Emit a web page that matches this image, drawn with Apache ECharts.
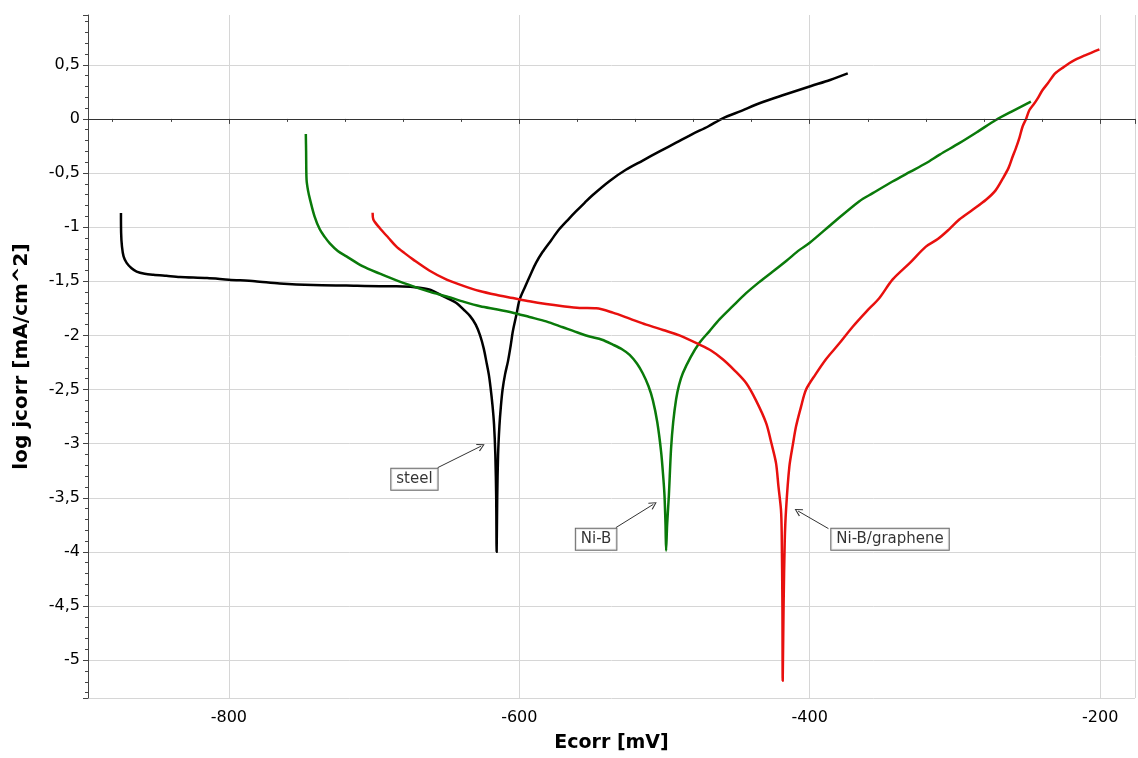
<!DOCTYPE html>
<html>
<head>
<meta charset="utf-8">
<title>Polarization curves</title>
<script src="https://cdn.jsdelivr.net/npm/echarts@6/dist/echarts.min.js"></script>
<style>
  html, body { margin: 0; padding: 0; background: #fff; }
  #chart { width: 1138px; height: 758px; }
</style>
</head>
<body>
<div id="chart"></div>
<script>
// steel
var steelE = [-874.3, -874.2, -873.6, -872.5, -870.4, -867, -863.5, -858, -852, -843, -833.7, -815, -800, -782, -765, -742, -719, -696, -684.6, -675, -668.6, -661, -654.8, -649, -643.3, -638.5, -634, -630, -627, -624.5, -622.7, -621, -619.8, -618.5, -617.4, -616.5, -615.9, -615.6, -615.2, -614.6, -613.7, -612.7, -611.5, -609.8, -607.8, -606, -604.4, -602, -599.8, -596, -592, -588.5, -584, -578, -572.5, -566, -561, -555, -549.6, -538, -526.6, -515, -503.4, -492, -480.5, -470, -459.9, -447, -434.6, -417, -399, -386, -373.8];
var steelJ = [-0.87, -1.05, -1.18, -1.27, -1.33, -1.38, -1.41, -1.43, -1.44, -1.45, -1.46, -1.47, -1.485, -1.5, -1.52, -1.535, -1.54, -1.545, -1.545, -1.55, -1.56, -1.58, -1.62, -1.66, -1.7, -1.76, -1.82, -1.9, -2.0, -2.12, -2.24, -2.36, -2.48, -2.64, -2.82, -3.1, -3.5, -4.0, -3.5, -3.1, -2.84, -2.66, -2.5, -2.36, -2.24, -2.1, -1.96, -1.81, -1.67, -1.55, -1.43, -1.33, -1.23, -1.12, -1.02, -0.925, -0.855, -0.775, -0.705, -0.575, -0.47, -0.385, -0.3, -0.22, -0.138, -0.07, 0.006, 0.075, 0.145, 0.225, 0.304, 0.36, 0.42];

// Ni-B
var nibE = [-747, -746.8, -746.5, -745.5, -744, -741, -737.4, -734, -730.5, -725, -719, -708, -696, -685, -673, -661, -650, -638, -627, -615, -604.4, -593, -581.5, -570, -558.5, -551.6, -543, -535.6, -529, -524, -519, -515, -511, -508, -505, -502.3, -500.8, -500, -499.3, -498.9, -498.2, -497, -495.5, -494, -492, -490, -487.4, -482, -476, -469, -462, -453, -443.8, -435, -425.4, -416, -407, -400.2, -383, -365.8, -356.6, -343, -331, -320, -310.5, -297, -284, -271.8, -260, -247.7];
var nibJ = [-0.14, -0.3, -0.56, -0.66, -0.75, -0.9, -1.02, -1.09, -1.15, -1.22, -1.27, -1.36, -1.43, -1.49, -1.547, -1.6, -1.64, -1.69, -1.73, -1.76, -1.79, -1.83, -1.87, -1.925, -1.98, -2.01, -2.04, -2.085, -2.13, -2.18, -2.26, -2.35, -2.47, -2.6, -2.8, -3.08, -3.32, -3.48, -3.75, -3.99, -3.75, -3.48, -3.05, -2.8, -2.59, -2.46, -2.35, -2.2, -2.07, -1.96, -1.85, -1.73, -1.61, -1.51, -1.41, -1.31, -1.21, -1.147, -0.95, -0.76, -0.686, -0.578, -0.49, -0.41, -0.33, -0.224, -0.115, -0.01, 0.075, 0.16];

// Ni-B/graphene
var nibgE = [-701, -700.5, -696, -690, -684.6, -679, -673, -662, -650, -639, -627.3, -616, -604.4, -593, -581.5, -570, -558.5, -547, -535.6, -524, -512.6, -501, -489.7, -476, -468, -459.9, -452, -443.8, -437, -430, -426.5, -423.2, -421.5, -419.8, -419.3, -418.8, -418.6, -418, -417.2, -416.3, -414, -411.5, -409.4, -406, -402.5, -396, -388.8, -380, -370.4, -361, -352, -343, -331, -320, -311.8, -304, -297, -287.8, -278.6, -272, -267, -263, -260.3, -258, -255.5, -253.4, -251, -248.8, -246, -243, -240, -236, -231, -225, -219.5, -210, -200.5];
var nibgJ = [-0.867, -0.93, -1.01, -1.1, -1.18, -1.24, -1.3, -1.4, -1.485, -1.54, -1.59, -1.625, -1.655, -1.685, -1.71, -1.73, -1.746, -1.75, -1.79, -1.845, -1.9, -1.95, -2.0, -2.085, -2.14, -2.22, -2.32, -2.44, -2.6, -2.81, -2.99, -3.18, -3.4, -3.61, -3.82, -4.5, -5.19, -4.5, -3.9, -3.61, -3.21, -3.0, -2.84, -2.66, -2.5, -2.36, -2.22, -2.08, -1.92, -1.78, -1.654, -1.485, -1.33, -1.18, -1.11, -1.02, -0.93, -0.84, -0.747, -0.66, -0.55, -0.45, -0.35, -0.27, -0.17, -0.07, 0.0, 0.08, 0.13, 0.19, 0.26, 0.33, 0.42, 0.48, 0.53, 0.59, 0.643];

// annotations (data coordinates)
var noteNames = ['steel', 'Ni-B', 'Ni-B/graphene'];
var noteAt = [[-672.2, -3.33], [-547.1, -3.884], [-344.7, -3.884]];
var arrowFrom = [[-656.2, -3.222], [-533.5, -3.776], [-387.1, -3.785]];
var arrowTo = [[-626.3, -3.023], [-507.7, -3.561], [-408.0, -3.623]];

function zip(xs, ys) {
  return xs.map(function (x, i) { return [x, ys[i]]; });
}

var chart = echarts.init(document.getElementById('chart'));

var tickFont = { fontFamily: 'DejaVu Sans', fontSize: 16, color: '#000' };

var option = {
  animation: false,
  backgroundColor: '#fff',
  grid: { left: 88, right: 1, top: 15, bottom: 60 },
  xAxis: {
    type: 'value',
    min: -897,
    max: -176,
    splitNumber: 4,
    name: 'Ecorr [mV]',
    nameLocation: 'middle',
    nameGap: 36,
    nameTextStyle: { fontFamily: 'DejaVu Sans', fontWeight: 'bold', fontSize: 19, color: '#000' },
    axisLine: { lineStyle: { color: '#444', width: 1 } },
    axisTick: { show: true, length: 5, lineStyle: { color: '#444' } },
    minorTick: { show: true, splitNumber: 5, length: 3, lineStyle: { color: '#444' } },
    axisLabel: Object.assign({
      margin: 12,
      formatter: function (v) { return Math.abs(v % 200) < 1e-6 ? String(v) : ''; }
    }, tickFont),
    splitLine: { show: true, lineStyle: { color: '#d6d6d6', width: 1 } }
  },
  yAxis: {
    type: 'value',
    min: -5.35,
    max: 0.96,
    splitNumber: 12,
    name: 'log jcorr [mA/cm^2]',
    nameLocation: 'middle',
    nameGap: 56,
    nameTextStyle: { fontFamily: 'DejaVu Sans', fontWeight: 'bold', fontSize: 20, color: '#000' },
    axisLine: { show: true, lineStyle: { color: '#444', width: 1 } },
    axisTick: { show: true, length: 5, lineStyle: { color: '#444' } },
    minorTick: { show: true, splitNumber: 5, length: 3, lineStyle: { color: '#444' } },
    axisLabel: Object.assign({
      margin: 8,
      formatter: function (v) {
        var d = v * 2;
        if (Math.abs(d - Math.round(d)) > 1e-6) return '';
        return String(Math.round(d) / 2).replace('.', ',');
      }
    }, tickFont),
    splitLine: { show: true, showMaxLine: false, lineStyle: { color: '#d6d6d6', width: 1 } }
  },
  series: [
    {
      name: 'steel',
      type: 'line',
      data: zip(steelE, steelJ),
      showSymbol: false,
      smooth: 0.3,
      lineStyle: { color: '#000000', width: 2.5, join: 'round' },
      z: 3,
      markLine: {
        silent: true,
        symbol: ['none', 'none'],
        label: { show: false },
        lineStyle: { color: '#333', width: 1, type: 'solid' },
        data: [{ yAxis: 0 }]
      }
    },
    {
      name: 'Ni-B',
      type: 'line',
      data: zip(nibE, nibJ),
      showSymbol: false,
      smooth: 0.3,
      lineStyle: { color: '#0a7a0a', width: 2.5, join: 'round' },
      z: 3
    },
    {
      name: 'Ni-B/graphene',
      type: 'line',
      data: zip(nibgE, nibgJ),
      showSymbol: false,
      smooth: 0.3,
      lineStyle: { color: '#e8100e', width: 2.5, join: 'round' },
      z: 3
    },
    {
      name: 'notes',
      type: 'scatter',
      symbolSize: 0,
      z: 5,
      data: noteAt.map(function (p, i) { return { value: p, name: noteNames[i] }; }),
      label: {
        show: true,
        position: 'inside',
        formatter: '{b}',
        fontFamily: 'DejaVu Sans',
        fontSize: 15,
        color: '#000',
        backgroundColor: '#fff',
        borderColor: '#444',
        borderWidth: 1,
        padding: [3, 5, 3, 5]
      },
      markLine: {
        silent: true,
        symbol: ['none', 'path://M5,0 L10,9 L9,10 L5,2.5 L1,10 L0,9 Z'],
        symbolSize: [8, 8],
        label: { show: false },
        lineStyle: { color: '#333', width: 1, type: 'solid' },
        data: arrowFrom.map(function (p, i) {
          return [{ coord: p }, { coord: arrowTo[i] }];
        })
      }
    }
  ]
};

chart.setOption(option);
</script>
</body>
</html>
